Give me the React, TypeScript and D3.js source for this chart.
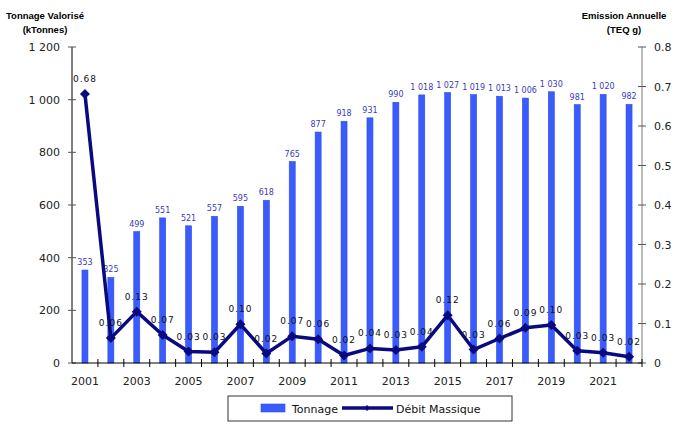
import React from "react";
import * as d3 from "d3";

const years = ["2001","2002","2003","2004","2005","2006","2007","2008","2009","2010","2011","2012","2013","2014","2015","2016","2017","2018","2019","2020","2021","2022"];
const tonnage = [353,325,499,551,521,557,595,618,765,877,918,931,990,1018,1027,1019,1013,1006,1030,981,1020,982];
const debit = [0.681,0.063,0.13,0.071,0.029,0.027,0.098,0.024,0.068,0.06,0.019,0.037,0.033,0.041,0.121,0.034,0.062,0.089,0.096,0.031,0.026,0.016];
const leftTicks = [0,200,400,600,800,1000,1200];
const rightTicks = [0,0.1,0.2,0.3,0.4,0.5,0.6,0.7,0.8];

const W = 683, H = 433;
const left = 72, right = 642, top = 47, bottom = 363;

export default function App() {
  const x = d3.scaleBand<string>().domain(years).range([left, right]);
  const yL = d3.scaleLinear().domain([0, 1200]).range([bottom, top]);
  const yR = d3.scaleLinear().domain([0, 0.8]).range([bottom, top]);
  const cx = (y: string) => (x(y) as number) + x.bandwidth() / 2;
  const line = d3.line<number>().x((_, i) => cx(years[i])).y((d) => yR(d));
  const fmtL = (v: number) => d3.format(",")(v).replace(",", " ");
  const barW = 6;
  const tickFont = "DejaVu Sans";
  const titleFont = "Liberation Sans";
  const diamond = (px: number, py: number, r = 5) => `M${px},${py - r}L${px + r},${py}L${px},${py + r}L${px - r},${py}Z`;

  return (
    <svg width={W} height={H} style={{ position: "absolute", left: 0, top: 0, background: "#fff" }}>
      {/* titles */}
      <g fontFamily={titleFont} fontWeight="bold" fontSize={9.5} fill="#000" textAnchor="middle">
        <text x={45} y={19}>Tonnage Valorisé</text>
        <text x={45} y={33}>(kTonnes)</text>
        <text x={624} y={19}>Emission Annuelle</text>
        <text x={624} y={33}>(TEQ g)</text>
      </g>
      {/* bars */}
      {tonnage.map((v, i) => (
        <rect key={"b" + i} x={cx(years[i]) - barW / 2} y={yL(v)} width={barW} height={bottom - yL(v)} fill="#3a5cff" stroke="#2f4be0" strokeWidth={0.6} />
      ))}
      {tonnage.map((v, i) => (
        <text key={"bl" + i} x={cx(years[i])} y={yL(v) - 5} fontFamily={tickFont} fontSize={8} fill="#3b3bb8" textAnchor="middle">{fmtL(v)}</text>
      ))}
      {/* left axis */}
      <line x1={left} x2={left} y1={top} y2={bottom} stroke="#000" strokeWidth={1} />
      {leftTicks.map((t) => (
        <g key={"lt" + t}>
          <line x1={left - 4} x2={left + 4} y1={yL(t)} y2={yL(t)} stroke="#555" />
          <text x={60} y={yL(t) + 4} fontFamily={tickFont} fontSize={11} fill="#222" textAnchor="end">{fmtL(t)}</text>
        </g>
      ))}
      {/* right axis */}
      <line x1={right} x2={right} y1={top} y2={bottom} stroke="#777" strokeWidth={1} />
      {rightTicks.map((t) => (
        <g key={"rt" + t}>
          <line x1={right - 4} x2={right + 4} y1={yR(t)} y2={yR(t)} stroke="#555" />
          <text x={654} y={yR(t) + 4} fontFamily={tickFont} fontSize={11} fill="#222" textAnchor="start">{t === 0 ? "0" : d3.format(".1f")(t)}</text>
        </g>
      ))}
      {/* x axis */}
      <line x1={left} x2={right} y1={bottom} y2={bottom} stroke="#000" strokeWidth={1} />
      {years.map((yv, i) => (
        <line key={"xt" + i} x1={(x(yv) as number) + x.bandwidth()} x2={(x(yv) as number) + x.bandwidth()} y1={bottom - 4} y2={bottom + 4} stroke="#000" />
      ))}
      {years.map((yv, i) => i % 2 === 0 ? (
        <text key={"xl" + i} x={cx(yv)} y={385} fontFamily={tickFont} fontSize={11} fill="#222" textAnchor="middle">{yv}</text>
      ) : null)}
      {/* line */}
      <path d={line(debit) || ""} fill="none" stroke="#0a0a80" strokeWidth={3.5} strokeLinejoin="round" />
      {debit.map((v, i) => (
        <path key={"m" + i} d={diamond(cx(years[i]), yR(v))} fill="#0a0a80" />
      ))}
      {debit.map((v, i) => (
        <text key={"ml" + i} x={cx(years[i])} y={yR(v) - 12} fontFamily={tickFont} fontSize={9} letterSpacing={1} fill="#111" textAnchor="middle">{d3.format(".2f")(v)}</text>
      ))}
      {/* legend */}
      <rect x={228} y={396} width={284} height={25} fill="#fff" stroke="#333" strokeWidth={1} />
      <rect x={261} y={404} width={24} height={8} fill="#3a5cff" stroke="#2f4be0" strokeWidth={0.6} />
      <text x={292} y={413} fontFamily={tickFont} fontSize={11} fill="#111">Tonnage</text>
      <line x1={342} x2={393} y1={408} y2={408} stroke="#0a0a80" strokeWidth={3.5} />
      <path d={diamond(367, 408, 3)} fill="#0a0a80" />
      <text x={396} y={413} fontFamily={tickFont} fontSize={11} fill="#111">Débit Massique</text>
    </svg>
  );
}
